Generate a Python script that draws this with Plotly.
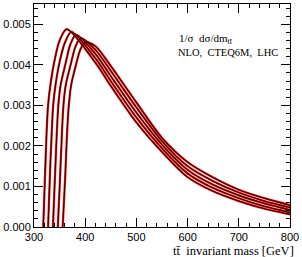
import plotly.graph_objects as go

# m_tt [GeV] sample points for each curve
m1 = [318, 321.5, 324.5, 327.5, 332, 340, 350, 364, 420, 450, 500, 550, 600, 650, 700, 750, 800]
v1 = [0.0, 0.00125, 0.0023, 0.0030, 0.0035, 0.0041, 0.00460, 0.00488, 0.00405, 0.00348, 0.00258, 0.00185, 0.00123, 0.00088, 0.00064, 0.00045, 0.00031]
m2 = [327.5, 331, 334.5, 337.5, 342, 350.5, 360.5, 373, 420, 450, 500, 550, 600, 650, 700, 750, 800]
v2 = [0.0, 0.00125, 0.0023, 0.0030, 0.0035, 0.0041, 0.00455, 0.00481, 0.00416, 0.00360, 0.00270, 0.00194, 0.00132, 0.00096, 0.00071, 0.00051, 0.00036]
m3 = [337, 341, 344.5, 347.5, 352, 361, 371, 382, 420, 450, 500, 550, 600, 650, 700, 750, 800]
v3 = [0.0, 0.00125, 0.0023, 0.0030, 0.0035, 0.0040, 0.00450, 0.00474, 0.00427, 0.00372, 0.00282, 0.00203, 0.00141, 0.00104, 0.00078, 0.00058, 0.00042]
m4 = [346.5, 351, 354.5, 357.5, 362, 371.5, 380.5, 391, 420, 450, 500, 550, 600, 650, 700, 750, 800]
v4 = [0.0, 0.00125, 0.0023, 0.0030, 0.0035, 0.0040, 0.00443, 0.00466, 0.00437, 0.00385, 0.00295, 0.00212, 0.00150, 0.00113, 0.00085, 0.00064, 0.00048]
m5 = [356, 361, 364.5, 368, 372.5, 382, 390, 400, 420, 450, 500, 550, 600, 650, 700, 750, 800]
v5 = [0.0, 0.00125, 0.0023, 0.0030, 0.0035, 0.0040, 0.00436, 0.00456, 0.00446, 0.00397, 0.00307, 0.00220, 0.00160, 0.00122, 0.00092, 0.00071, 0.00054]

curves = [(m1, v1), (m2, v2), (m3, v3), (m4, v4), (m5, v5)]

x_ticks = [300, 400, 500, 600, 700, 800]
y_ticks = [0.000, 0.001, 0.002, 0.003, 0.004, 0.005]
y_tick_labels = ["0.000", "0.001", "0.002", "0.003", "0.004", "0.005"]

fig = go.Figure()
for m, v in curves:
    fig.add_trace(go.Scatter(x=m, y=v, mode="lines",
                             line=dict(color="#ff1a1a", width=2.3, shape="spline", smoothing=0.8),
                             hoverinfo="skip", showlegend=False))
for m, v in curves:
    fig.add_trace(go.Scatter(x=m, y=v, mode="lines",
                             line=dict(color="#2a0000", width=1.1, shape="spline", smoothing=0.8),
                             hoverinfo="skip", showlegend=False))

axis_common = dict(showgrid=False, zeroline=False, showline=True, linecolor="black",
                   linewidth=1, mirror="ticks", ticks="inside", ticklen=9,
                   tickcolor="black", tickwidth=1,
                   tickfont=dict(family="Liberation Sans, Arial", size=11, color="black"))

fig.update_xaxes(range=[300, 800], tickvals=x_ticks,
                 minor=dict(ticks="inside", ticklen=4, dtick=20, tickcolor="black", tickwidth=1),
                 **axis_common)
fig.update_yaxes(range=[0, 0.0055], tickvals=y_ticks, ticktext=y_tick_labels,
                 minor=dict(ticks="inside", ticklen=4, dtick=0.0002, tickcolor="black", tickwidth=1),
                 **axis_common)

fig.add_annotation(xref="paper", yref="paper", x=0.559, y=0.843, xanchor="left", yanchor="middle",
                   text="1/σ  dσ/dm<sub>tt̄</sub>", showarrow=False,
                   font=dict(family="Liberation Serif, Times New Roman", size=11, color="black"))
fig.add_annotation(xref="paper", yref="paper", x=0.556, y=0.783, xanchor="left", yanchor="middle",
                   text="NLO,  CTEQ6M,  LHC", showarrow=False,
                   font=dict(family="Liberation Serif, Times New Roman", size=10.5, color="black"))
fig.add_annotation(xref="paper", yref="paper", x=1.025, y=-0.108, xanchor="right", yanchor="middle",
                   text="tt̄  invariant mass [GeV]", showarrow=False,
                   font=dict(family="Liberation Serif, Times New Roman", size=12.5, color="black"))

fig.update_layout(width=302, height=257, margin=dict(l=31.5, r=10.3, t=3, b=30),
                  plot_bgcolor="white", paper_bgcolor="white")

fig.write_html("out.html", config={"displayModeBar": False},
               post_script="document.body.style.margin='0';document.body.style.padding='0';")
